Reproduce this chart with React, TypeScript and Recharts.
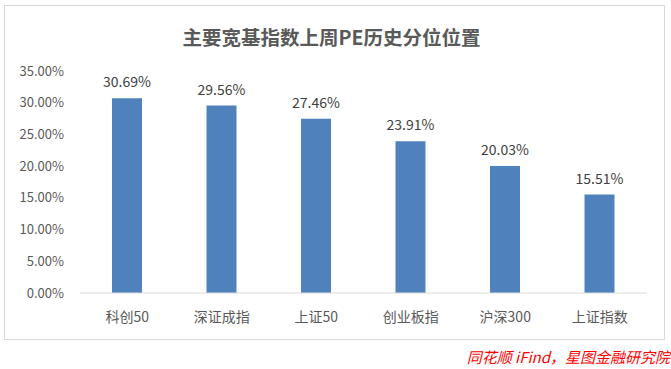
import { BarChart, Bar, XAxis, YAxis, LabelList } from "recharts";

const indexNames = ["科创50", "深证成指", "上证50", "创业板指", "沪深300", "上证指数"];
const pePercentile = [30.69, 29.56, 27.46, 23.91, 20.03, 15.51];
const yTicks = [0, 5, 10, 15, 20, 25, 30, 35];

const rows = indexNames.map((name, i) => ({ name, value: pePercentile[i] }));

const FONT = '"Noto Sans CJK SC", "Noto Sans", sans-serif';
const pct = (v: number) => `${v.toFixed(2)}%`;

export default function App() {
  return (
    <div
      style={{
        position: "relative",
        width: 671,
        height: 369,
        background: "#fff",
        fontFamily: FONT,
        overflow: "hidden",
      }}
    >
      <style>{`body{margin:0}`}</style>
      <div
        style={{
          position: "absolute",
          left: 4,
          top: 5,
          width: 659,
          height: 333,
          border: "1px solid #D9D9D9",
        }}
      />
      <div
        style={{
          position: "absolute",
          left: 0,
          width: 663,
          top: 24,
          textAlign: "center",
          fontSize: 19.5,
          fontWeight: 700,
          color: "#595959",
          lineHeight: "26px",
        }}
      >
        主要宽基指数上周PE历史分位位置
      </div>
      <div style={{ position: "absolute", left: 0, top: 0 }}>
        <BarChart
          width={671}
          height={369}
          data={rows}
          margin={{ top: 71, right: 24, left: 20, bottom: 46 }}
          barSize={30}
        >
          <XAxis
            dataKey="name"
            height={30}
            axisLine={{ stroke: "#D9D9D9" }}
            tickLine={false}
            tickSize={0}
            tickMargin={19}
            interval={0}
            tick={{ fill: "#595959", fontSize: 14, fontFamily: FONT }}
          />
          <YAxis
            width={60}
            domain={[0, 35]}
            ticks={yTicks}
            tickFormatter={pct}
            axisLine={false}
            tickLine={false}
            tickSize={0}
            tickMargin={16}
            tick={{ fill: "#595959", fontSize: 13, fontFamily: FONT }}
          />
          <Bar dataKey="value" fill="#4F81BD" isAnimationActive={false}>
            <LabelList
              dataKey="value"
              position="top"
              offset={11}
              formatter={(v: number) => pct(v)}
              style={{ fill: "#404040", fontSize: 14, fontFamily: FONT }}
            />
          </Bar>
        </BarChart>
      </div>
      <div
        style={{
          position: "absolute",
          right: 1,
          top: 347,
          fontSize: 15,
          fontStyle: "italic",
          color: "#FF0000",
          lineHeight: "20px",
          whiteSpace: "nowrap",
        }}
      >
        同花顺 iFind，星图金融研究院
      </div>
    </div>
  );
}
